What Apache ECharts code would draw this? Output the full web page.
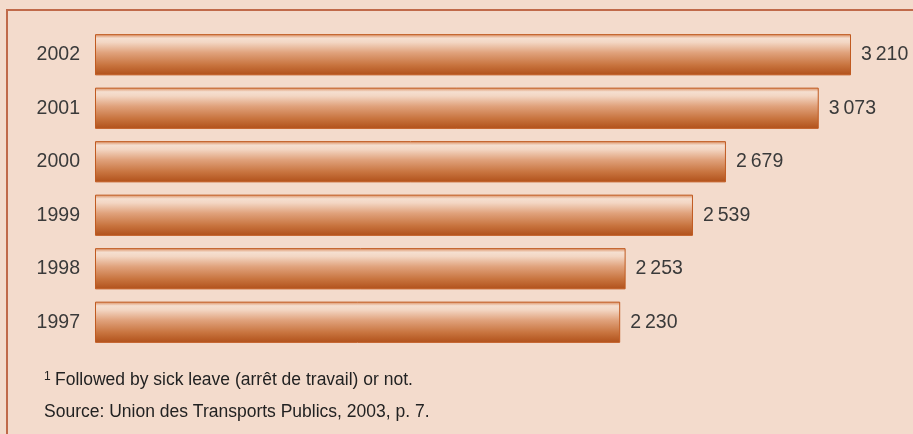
<!DOCTYPE html>
<html><head><meta charset="utf-8">
<script src="https://cdn.jsdelivr.net/npm/echarts@6/dist/echarts.min.js"></script>
<style>html,body{margin:0;padding:0;background:#f3dbcc;}#c{width:913px;height:434px;}</style>
</head><body><div id="c"></div>
<script>
const years = ['1997', '1998', '1999', '2000', '2001', '2002'];
const values = [2230, 2253, 2539, 2679, 3073, 3210];
const footnote = 'Followed by sick leave (arrêt de travail) or not.';
const source = 'Source: Union des Transports Publics, 2003, p. 7.';

function fmt(v) {
  const s = String(v);
  return s.length > 3 ? s.slice(0, s.length - 3) + '\u2009' + s.slice(-3) : s;
}

const FONT = 'Liberation Sans, Arial, sans-serif';
const chart = echarts.init(document.getElementById('c'), null, {renderer: 'canvas'});
const barGrad = new echarts.graphic.LinearGradient(0, 0, 0, 1, [
  {offset: 0, color: '#d9895a'},
  {offset: 0.1, color: '#f5dfd0'},
  {offset: 0.2, color: '#f3d6c3'},
  {offset: 0.45, color: '#e0a27c'},
  {offset: 0.75, color: '#c8743f'},
  {offset: 1, color: '#b0501a'}
]);
chart.setOption({
  backgroundColor: '#f3dbcc',
  animation: false,
  grid: {left: 95, right: 62, top: 28, height: 321, containLabel: false},
  xAxis: {type: 'value', min: 0, max: 3210, show: false},
  yAxis: {
    type: 'category', data: years,
    axisLine: {show: false}, axisTick: {show: false}, splitLine: {show: false},
    axisLabel: {color: '#3a3a3a', fontSize: 19.5, margin: 15, fontFamily: FONT}
  },
  series: [{
    type: 'bar', data: values, barCategoryGap: '23%',
    itemStyle: {color: barGrad, borderColor: '#c05a20', borderWidth: 1},
    label: {
      show: true, position: 'right', distance: 10, color: '#3a3a3a', fontSize: 19.5,
      fontFamily: FONT,
      formatter: p => fmt(p.value)
    }
  }],
  graphic: [
    {type: 'rect', shape: {x: 7, y: 10, width: 920, height: 440}, style: {fill: 'none', stroke: '#c06a4a', lineWidth: 2}, z: 10},
    {type: 'text', x: 44, y: 377, style: {
      text: '1', font: '12px ' + FONT, fill: '#222', verticalAlign: 'middle'
    }},
    {type: 'text', x: 55, y: 380, style: {
      text: footnote, verticalAlign: 'middle',
      font: '17.5px ' + FONT, fill: '#222'
    }},
    {type: 'text', x: 44, y: 412, style: {
      text: source, verticalAlign: 'middle',
      font: '17.5px ' + FONT, fill: '#222'
    }}
  ]
});
</script></body></html>
